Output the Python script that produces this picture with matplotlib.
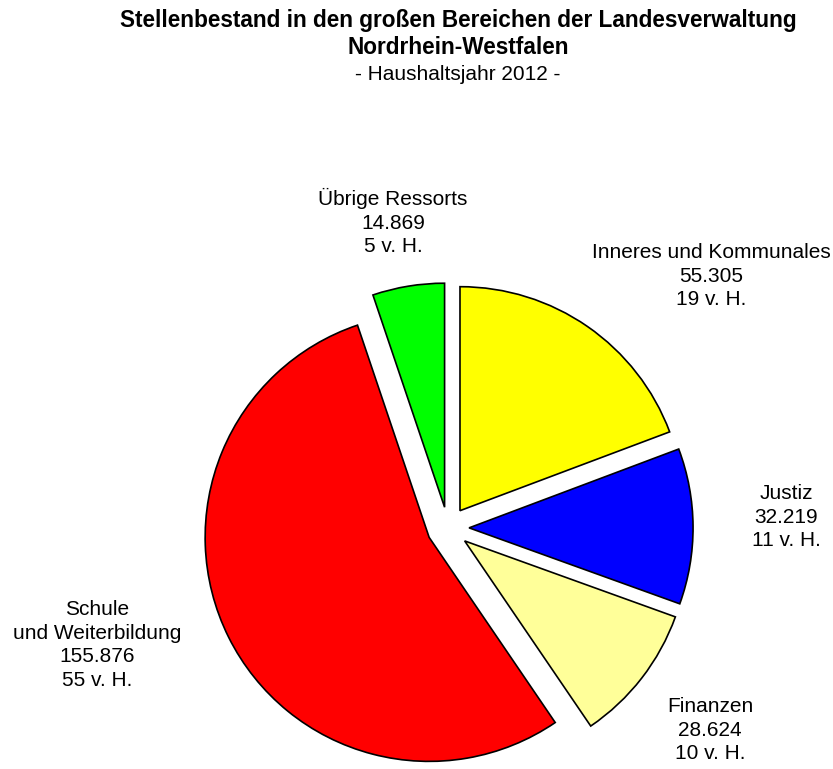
import numpy as np
import matplotlib.pyplot as plt

plt.rcParams['font.family'] = ['Liberation Sans', 'DejaVu Sans']

# data (clockwise from 12 o'clock)
categories = ['Inneres und Kommunales', 'Justiz', 'Finanzen',
              'Schule\nund Weiterbildung', 'Übrige Ressorts']
stellen = [55305, 32219, 28624, 155876, 14869]
stellen_text = ['55.305', '32.219', '28.624', '155.876', '14.869']
anteil_text = ['19 v. H.', '11 v. H.', '10 v. H.', '55 v. H.', '5 v. H.']
slice_colors = ['#FFFF00', '#0000FF', '#FFFF99', '#FF0000', '#00FF00']

# label placement relative to pie centre (in radius units)
label_pos = [(1.174, 1.125), (1.509, 0.049), (1.170, -0.902),
             (-1.567, -0.522), (-0.246, 1.366)]

W, H = 833, 769
R = 224.0            # pie radius in px
cx, cy = 448, 528    # pie centre in px (from top)

fig = plt.figure(figsize=(W / 100, H / 100), dpi=100)
ax = fig.add_axes([0, 0, 1, 1])
ax.pie(stellen, colors=slice_colors, startangle=90, counterclock=False,
       explode=[0.094] * len(stellen), radius=1.0,
       wedgeprops=dict(edgecolor='black', linewidth=1.2))
ax.set_xlim(-cx / R, (W - cx) / R)
ax.set_ylim(-(H - cy) / R, cy / R)
ax.set_aspect('equal')
ax.axis('off')

for name, s, a, (lx, ly) in zip(categories, stellen_text, anteil_text, label_pos):
    ax.text(lx, ly, f'{name}\n{s}\n{a}', ha='center', va='center',
            fontsize=15, linespacing=1.32)

fig.text(458 / W, 1 - 20 / H,
         'Stellenbestand in den großen Bereichen der Landesverwaltung',
         ha='center', va='center', fontsize=16.3, fontweight='bold')
fig.text(458 / W, 1 - 47 / H, 'Nordrhein-Westfalen',
         ha='center', va='center', fontsize=16.3, fontweight='bold')
fig.text(458 / W, 1 - 74 / H, '- Haushaltsjahr 2012 -',
         ha='center', va='center', fontsize=15)

fig.savefig('out.png', dpi=100)
